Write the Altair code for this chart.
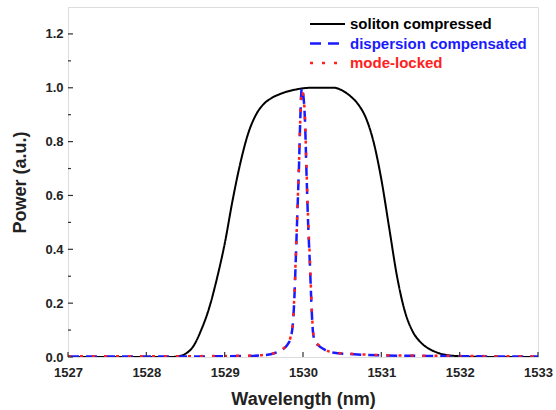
import altair as alt
import pandas as pd

# Spectra (normalised power vs wavelength in nm)
sol_wl = [1527.0, 1527.5, 1528.0, 1528.3, 1528.4, 1528.5, 1528.6, 1528.7, 1528.8, 1528.9,
          1529.0, 1529.1, 1529.2, 1529.3, 1529.4, 1529.5, 1529.6, 1529.7, 1529.8, 1529.9,
          1530.0, 1530.1, 1530.2, 1530.3, 1530.4, 1530.5, 1530.6, 1530.7, 1530.8, 1530.9,
          1531.0, 1531.1, 1531.2, 1531.3, 1531.4, 1531.5, 1531.6, 1531.7, 1531.8, 1532.0,
          1532.2, 1532.6, 1533.0]
sol_pw = [0.0, 0.0, 0.0, 0.0, 0.002, 0.012, 0.04, 0.1, 0.18, 0.29,
          0.42, 0.58, 0.72, 0.83, 0.9, 0.94, 0.962, 0.976, 0.986, 0.993,
          0.998, 1.0, 1.0, 1.0, 1.0, 0.99, 0.97, 0.94, 0.89, 0.8,
          0.66, 0.48, 0.3, 0.17, 0.095, 0.055, 0.032, 0.018, 0.009, 0.003,
          0.001, 0.0, 0.0]

disp_wl = [1527.0, 1527.5, 1528.0, 1528.5, 1529.0, 1529.3, 1529.5, 1529.6, 1529.68, 1529.75,
           1529.8, 1529.84, 1529.87, 1529.89, 1529.91, 1529.93, 1529.95, 1529.965, 1529.985,
           1530.005, 1530.025, 1530.045, 1530.065, 1530.09, 1530.11, 1530.13, 1530.16, 1530.2,
           1530.26, 1530.33, 1530.45, 1530.6, 1530.8, 1531.0, 1531.5, 1532.0, 1532.5, 1533.0]
disp_pw = [0.002, 0.002, 0.002, 0.002, 0.003, 0.004, 0.007, 0.011, 0.019, 0.03,
           0.045, 0.07, 0.12, 0.22, 0.38, 0.55, 0.72, 0.88, 1.0,
           0.97, 0.88, 0.68, 0.5, 0.33, 0.18, 0.085, 0.055, 0.042,
           0.03, 0.02, 0.014, 0.011, 0.008, 0.006, 0.004, 0.003, 0.002, 0.002]

ml_wl = [1527.0, 1527.5, 1528.0, 1528.5, 1529.0, 1529.3, 1529.5, 1529.6, 1529.68, 1529.75,
         1529.8, 1529.84, 1529.87, 1529.89, 1529.91, 1529.93, 1529.95, 1529.965, 1529.983,
         1530.003, 1530.025, 1530.045, 1530.065, 1530.09, 1530.11, 1530.13, 1530.16, 1530.2,
         1530.26, 1530.33, 1530.45, 1530.6, 1530.8, 1531.0, 1531.5, 1532.0, 1532.5, 1533.0]
ml_pw = [0.003, 0.003, 0.003, 0.003, 0.004, 0.005, 0.008, 0.012, 0.02, 0.032,
         0.047, 0.073, 0.125, 0.23, 0.39, 0.56, 0.73, 0.88, 0.99,
         0.97, 0.89, 0.7, 0.52, 0.35, 0.19, 0.09, 0.058, 0.044,
         0.032, 0.021, 0.015, 0.012, 0.009, 0.007, 0.005, 0.004, 0.003, 0.003]

series_names = ["soliton compressed", "dispersion compensated", "mode-locked"]
series_colors = ["#000000", "#1a1aff", "#ff2020"]
series_dashes = [[1, 0], [11, 7], [3, 9]]
series_widths = [2.0, 2.5, 2.5]

x_ticks = [1527, 1528, 1529, 1530, 1531, 1532, 1533]
y_ticks = [0.0, 0.2, 0.4, 0.6, 0.8, 1.0, 1.2]
y_minor = [0.1, 0.3, 0.5, 0.7, 0.9, 1.1]

W, H = 470, 350
FONT = "Liberation Sans"
AXIS_COLOR = "#333333"

frames = []
for name, wl, pw in zip(series_names, [sol_wl, disp_wl, ml_wl], [sol_pw, disp_pw, ml_pw]):
    frames.append(pd.DataFrame({"wl": wl, "pw": pw, "series": name}))

x_scale = alt.Scale(domain=[1527, 1533], nice=False, zero=False)
y_scale = alt.Scale(domain=[0, 1.3], nice=False)

x_axis = alt.Axis(values=x_ticks, format="d", tickSize=0, domain=False, grid=False,
                  labelFlush=False, labelOverlap=False,
                  labelFont=FONT, labelFontSize=13, labelFontWeight="bold", labelColor="#222",
                  labelPadding=9, title="Wavelength (nm)", titleFont=FONT, titleFontSize=18,
                  titleFontWeight="bold", titleColor="#222", titlePadding=11)
y_axis = alt.Axis(values=y_ticks, format=".1f", tickSize=0, domain=False, grid=False,
                  labelFlush=False, labelOverlap=False,
                  labelFont=FONT, labelFontSize=13, labelFontWeight="bold", labelColor="#222",
                  labelPadding=5, title="Power (a.u.)", titleFont=FONT, titleFontSize=18,
                  titleFontWeight="bold", titleColor="#222", titlePadding=15)

layers = []
for i, df in enumerate(frames):
    layers.append(
        alt.Chart(df).mark_line(
            color=series_colors[i], strokeDash=series_dashes[i],
            strokeWidth=series_widths[i], interpolate="monotone", clip=True,
        ).encode(
            x=alt.X("wl:Q", scale=x_scale, axis=x_axis),
            y=alt.Y("pw:Q", scale=y_scale, axis=y_axis),
            order="wl:Q",
        )
    )

# Inward ticks on the left and bottom axes
yt = pd.DataFrame({"pw": y_ticks})
ym = pd.DataFrame({"pw": y_minor})
xt = pd.DataFrame({"wl": x_ticks})
tick_layers = [
    alt.Chart(yt).mark_rule(color=AXIS_COLOR, strokeWidth=1.2).encode(
        y=alt.Y("pw:Q", scale=y_scale, axis=y_axis), x=alt.value(0), x2=alt.value(5)),
    alt.Chart(ym).mark_rule(color=AXIS_COLOR, strokeWidth=1.2).encode(
        y=alt.Y("pw:Q", scale=y_scale, axis=y_axis), x=alt.value(0), x2=alt.value(3)),
    alt.Chart(xt).mark_rule(color=AXIS_COLOR, strokeWidth=1.2).encode(
        x=alt.X("wl:Q", scale=x_scale, axis=x_axis), y=alt.value(H), y2=alt.value(H - 5)),
]

# Legend in the upper right corner
legend_layers = []
for i, name in enumerate(series_names):
    row = pd.DataFrame({"label": [name]})
    ly = 17 + 19.5 * i
    legend_layers.append(
        alt.Chart(row).mark_rule(color=series_colors[i], strokeDash=series_dashes[i],
                                 strokeWidth=series_widths[i]).encode(
            x=alt.value(242), x2=alt.value(277), y=alt.value(ly))
    )
    legend_layers.append(
        alt.Chart(row).mark_text(align="left", baseline="middle", font=FONT, fontSize=15,
                                 fontWeight="bold", color=series_colors[i]).encode(
            x=alt.value(282), y=alt.value(ly), text="label:N")
    )

chart = alt.layer(*layers, *tick_layers, *legend_layers).properties(
    width=W, height=H,
    autosize=alt.AutoSizeParams(type="none"),
    padding={"left": 68, "top": 7, "right": 18, "bottom": 53},
).configure_view(stroke=AXIS_COLOR, strokeWidth=1.5).configure(background="white")

chart.save("out.html", embed_options={"renderer": "svg", "actions": False})
